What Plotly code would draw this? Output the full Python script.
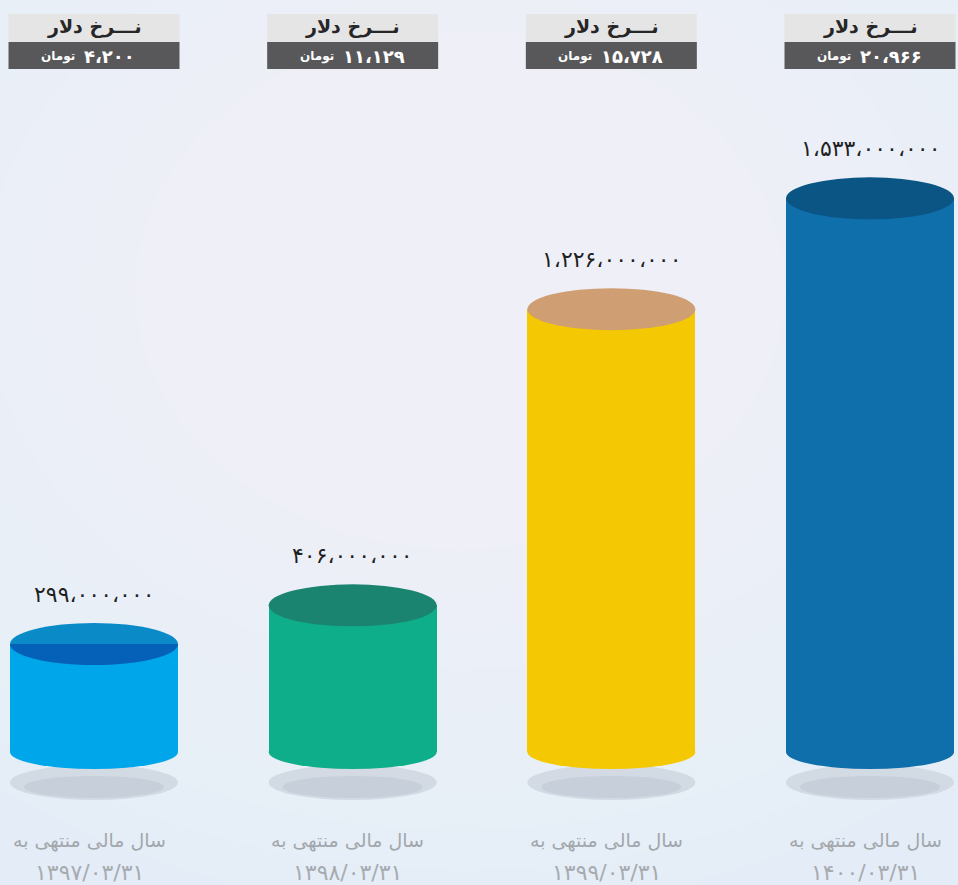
import plotly.graph_objects as go

# ---------------- data ----------------
FA = str.maketrans("0123456789", "۰۱۲۳۴۵۶۷۸۹")

def fa_num(n):
    return f"{n:,}".replace(",", "،").translate(FA)

categories = ["1397/03/31", "1398/03/31", "1399/03/31", "1400/03/31"]
values = [299_000_000, 406_000_000, 1_226_000_000, 1_533_000_000]
dollar_rates = [4200, 11129, 15728, 20966]
period_label = "سال مالی منتهی به"
rate_title = "نـــرخ دلار"
currency = "تومان"

body_colors = ["#00a6ea", "#0fae8b", "#f4c903", "#0f6fab"]
top_colors = ["#0a8bc8", "#1b8470", "#cf9e72", "#0a5584"]
top_lower_colors = ["#0560b8", "#1b8470", "#cf9e72", "#0a5584"]

# ---------------- figure ----------------
W, H = 958, 885
PX_PER_UNIT_X = 258.67
X0_PX = 94
BASE_PX = 752
PX_PER_VAL = 0.3612e-6

x_pos = list(range(len(categories)))
bar_w_px = 168
bar_w = bar_w_px / PX_PER_UNIT_X

fig = go.Figure()
fig.add_trace(go.Bar(
    x=x_pos, y=values, width=bar_w,
    marker=dict(color=body_colors, line=dict(width=0)),
    hoverinfo="skip", showlegend=False,
))

shapes = []
# soft background glow
cx, cy = 460, 290
for j in range(14):
    r = 620 - j * 40
    shapes.append(dict(type="circle", xref="paper", yref="paper",
                       x0=(cx - r * 1.25) / W, x1=(cx + r * 1.25) / W,
                       y0=1 - (cy + r) / H, y1=1 - (cy - r) / H,
                       fillcolor="rgba(255,255,255,0.06)", line=dict(width=0), layer="below"))

a, b = bar_w_px / 2, 21
k = 0.5523
lower_half = (f"M {-a},0 C {-a},{-k*b:.1f} {-k*a:.1f},{-b} 0,{-b} "
              f"C {k*a:.1f},{-b} {a},{-k*b:.1f} {a},0 Z")
for i, v in enumerate(values):
    # floor shadow
    shapes.append(dict(type="circle", xref="x", yref="y", xsizemode="pixel", ysizemode="pixel",
                       xanchor=i, yanchor=0, x0=-a, x1=a, y0=-48, y1=-13,
                       fillcolor="rgba(205,213,223,0.8)", line=dict(width=0), layer="below"))
    shapes.append(dict(type="circle", xref="x", yref="y", xsizemode="pixel", ysizemode="pixel",
                       xanchor=i, yanchor=0, x0=-a + 14, x1=a - 14, y0=-46, y1=-24,
                       fillcolor="rgba(190,199,210,0.55)", line=dict(width=0), layer="below"))
    # rounded bottom
    shapes.append(dict(type="circle", xref="x", yref="y", xsizemode="pixel", ysizemode="pixel",
                       xanchor=i, yanchor=0, x0=-a, x1=a, y0=-17, y1=17,
                       fillcolor=body_colors[i], line=dict(width=0), layer="above"))
    # top ellipse
    shapes.append(dict(type="circle", xref="x", yref="y", xsizemode="pixel", ysizemode="pixel",
                       xanchor=i, yanchor=v, x0=-a, x1=a, y0=-b, y1=b,
                       fillcolor=top_colors[i], line=dict(width=0), layer="above"))
    if top_lower_colors[i] != top_colors[i]:
        shapes.append(dict(type="path", xref="x", yref="y", xsizemode="pixel", ysizemode="pixel",
                           xanchor=i, yanchor=v, path=lower_half,
                           fillcolor=top_lower_colors[i], line=dict(width=0), layer="above"))
    # header boxes
    shapes.append(dict(type="rect", xref="x", yref="paper", xsizemode="pixel",
                       xanchor=i, x0=-85.5, x1=85.5, y0=1 - 42 / H, y1=1 - 14 / H,
                       fillcolor="#e5e5e6", line=dict(width=0), layer="above"))
    shapes.append(dict(type="rect", xref="x", yref="paper", xsizemode="pixel",
                       xanchor=i, x0=-85.5, x1=85.5, y0=1 - 69 / H, y1=1 - 42 / H,
                       fillcolor="#58585a", line=dict(width=0), layer="above"))

FONT = "DejaVu Sans"
annotations = []
for i, v in enumerate(values):
    annotations.append(dict(x=i, y=v, xref="x", yref="y", text=fa_num(v), showarrow=False,
                            yshift=50, yanchor="middle",
                            font=dict(family=FONT, size=22, color="#1f1f1f")))
    annotations.append(dict(x=i, y=1 - 27 / H, xref="x", yref="paper", text=f"<b>{rate_title}</b>",
                            showarrow=False, yanchor="middle",
                            font=dict(family=FONT, size=19, color="#262626")))
    annotations.append(dict(x=i, y=1 - 56 / H, xref="x", yref="paper", text=f"<b>{fa_num(dollar_rates[i])}</b>",
                            showarrow=False, xanchor="left", yanchor="middle", xshift=-12,
                            font=dict(family=FONT, size=18, color="#ffffff")))
    annotations.append(dict(x=i, y=1 - 57 / H, xref="x", yref="paper", text=f"<b>{currency}</b>",
                            showarrow=False, xanchor="right", yanchor="middle", xshift=-17,
                            font=dict(family=FONT, size=12, color="#ffffff")))
    annotations.append(dict(x=i, y=1 - 840 / H, xref="x", yref="paper", text=period_label,
                            showarrow=False, xshift=-5, yanchor="middle",
                            font=dict(family=FONT, size=19, color="#a3a7ac")))
    annotations.append(dict(x=i, y=1 - 872 / H, xref="x", yref="paper", text=categories[i].translate(FA),
                            showarrow=False, xshift=-5, yanchor="middle",
                            font=dict(family=FONT, size=22, color="#a7abb0")))

x_lo = -X0_PX / PX_PER_UNIT_X
x_hi = (W - X0_PX) / PX_PER_UNIT_X
y_hi = BASE_PX / PX_PER_VAL
y_lo = (BASE_PX - H) / PX_PER_VAL

fig.update_layout(
    width=W, height=H, autosize=False,
    margin=dict(l=0, r=0, t=0, b=0, pad=0),
    paper_bgcolor="#e4edf7", plot_bgcolor="rgba(0,0,0,0)",
    xaxis=dict(range=[x_lo, x_hi], visible=False, fixedrange=True),
    yaxis=dict(range=[y_lo, y_hi], visible=False, fixedrange=True),
    shapes=shapes, annotations=annotations, bargap=0,
)

fig.write_html("out.html", config={"displayModeBar": False},
               post_script="document.body.style.margin='0';")
